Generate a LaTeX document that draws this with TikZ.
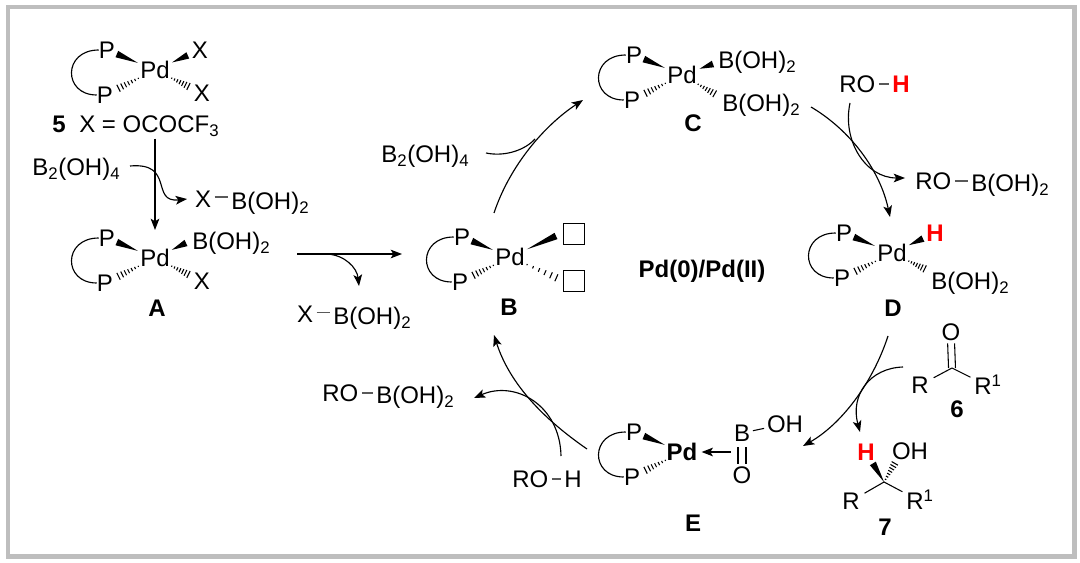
\documentclass[tikz,border=0pt]{standalone}
\usepackage{fontspec}
\setmainfont{Liberation Sans}
\usetikzlibrary{arrows.meta, calc}
\definecolor{framegray}{RGB}{190,190,190}
\definecolor{hydrogen}{RGB}{255,0,0}
\tikzset{
  chem/.style={inner sep=0pt, text height=12.6pt, text depth=0pt, font=\fontsize{18}{20}\selectfont},
  chembold/.style={chem, font=\fontsize{18}{20}\selectfont\bfseries},
  redh/.style={chembold, text=hydrogen},
  vacant/.style={draw, line width=0.9pt, minimum size=15.5pt, inner sep=0pt},
  bond/.style={line width=0.8pt},
  hbond/.style={bond, black!65, shorten <=2.5pt, shorten >=2.5pt},
  curve/.style={line width=0.85pt},
  rxn/.style={curve, -{Stealth[length=8.5pt, width=6.5pt, inset=2pt]}},
  hashline/.style={line width=0.8pt}
}
\newcommand{\boh}{B(OH)\textsubscript{2}}
% wedge from a to b, #3 = gap left at b
\newcommand{\wedgebond}[3]{
  \fill ($(#1)!14pt!(#2)$) -- ($(#2)!#3!(#1)!2.6pt!90:(#1)$) -- ($(#2)!#3!(#1)!2.6pt!-90:(#1)$) -- cycle;
}
% hashed bond from a to b, #3 = gap left at b, #4 = list of steps
\newcommand{\hashbond}[4]{
  \coordinate (hs) at ($(#1)!14pt!(#2)$);
  \coordinate (he) at ($(#2)!#3!(#1)$);
  \foreach \t [evaluate=\t as \hw using 0.5+2.4*\t] in {#4}
    \draw[hashline] ($(hs)!\t!(he)!\hw pt!90:(he)$) -- ($(hs)!\t!(he)!\hw pt!-90:(he)$);
}
% phosphine chelate round a Pd centre
\newcommand{\pdcore}[3]{
  \node[#3] (#1-Pd) at (#2) {Pd};
  \node[chem] (#1-Pt) at ($(#1-Pd)+(-48,-20)$) {P};
  \node[chem] (#1-Pb) at ($(#1-Pd)+(-50,25)$) {P};
  \draw[curve] (#1-Pt.west) .. controls +(-36,0) and +(-34,0) .. (#1-Pb.west);
  \wedgebond{#1-Pd}{#1-Pt}{8pt}
  \hashbond{#1-Pd}{#1-Pb}{11pt}{0,.16,.32,.48,.64,.8,.98}
}
\begin{document}
\begin{tikzpicture}[x=0.75pt, y=-0.75pt]
  \useasboundingbox (0,0) rectangle (1080,563);
  \draw[framegray, line width=3.2pt] (8,7) rectangle (1074.5,556.5);

  % precatalyst 5
  \pdcore{five}{155,70}{chem}
  \node[chem] (five-Xt) at (200,50) {X};
  \node[chem] (five-Xb) at (202,93) {X};
  \wedgebond{five-Pd}{five-Xt}{10pt}
  \hashbond{five-Pd}{five-Xb}{11pt}{0,.16,.32,.48,.64,.8,.98}
  \node[chembold] (five-no) at (59,124) {5};
  \node[chem, anchor=west] (five-X) at (79,124) {X = OCOCF\textsubscript{3}};

  % activation to A
  \pdcore{A}{155,258}{chem}
  \node[chem, anchor=west] (A-B) at (192,241) {\boh};
  \node[chem] (A-X) at (202,281) {X};
  \coordinate (A-rt) at (186,243);
  \wedgebond{A-Pd}{A-rt}{0pt}
  \hashbond{A-Pd}{A-X}{11pt}{0,.16,.32,.48,.64,.8,.98}
  \node[chembold] (A-no) at (157,308) {A};
  \draw[rxn] (five-X.south -| A-Pd) ++(0,6) coordinate (five-out) -- (A-Pd |- 0,230) coordinate (A-in);
  \node[chem, anchor=west] (dibor-a) at (32,167) {B\textsubscript{2}(OH)\textsubscript{4}};
  \node[chem] (xb-x) at (203,199) {X};
  \node[chem, anchor=west] (xb-b) at (231,201) {\boh};
  \draw[hbond] ([yshift=1.5pt]xb-x.east) -- ([yshift=1.5pt]xb-x.east -| xb-b.west);
  \coordinate (dibor-a-in) at (130,166);
  \coordinate (xb-tip) at (187,199);
  \draw[rxn] (dibor-a-in) .. controls (175,162) and (150,203) .. (xb-tip);

  % A to B
  \coordinate (ab-out) at (297,254);
  \coordinate (ab-in) at (402,254);
  \coordinate (ab-br) at (327,254);
  \coordinate (ab-tip) at (359,286);
  \draw[rxn] (ab-out) -- (ab-in);
  \draw[rxn] (ab-br) .. controls (345,255) and (357,268) .. (ab-tip);
  \node[chem] (xb2-x) at (305,314) {X};
  \node[chem, anchor=west] (xb2-b) at (333,316) {\boh};
  \draw[hbond] ([yshift=1pt]xb2-x.east) -- ([yshift=1pt]xb2-x.east -| xb2-b.west);

  % B
  \pdcore{B}{510,257}{chem}
  \node[vacant] (B-vt) at (574,234) {};
  \node[vacant] (B-vb) at (574,281) {};
  \coordinate (B-rt) at (556,236);
  \coordinate (B-rb) at (557,278);
  \wedgebond{B-Pd}{B-rt}{0pt}
  \hashbond{B-Pd}{B-rb}{0pt}{0,.2,.4,.6,.8,.98}
  \node[chembold] (B-no) at (509,307) {B};

  % B to C
  \coordinate (bc-out) at (494,213);
  \coordinate (bc-in) at (583,100);
  \draw[rxn] (bc-out) .. controls (510,165) and (545,125) .. (bc-in);
  \node[chem, anchor=west] (dibor-b) at (381,154) {B\textsubscript{2}(OH)\textsubscript{4}};
  \coordinate (dibor-b-in) at (486,153);
  \coordinate (dibor-b-end) at (535,139);
  \draw[curve] (dibor-b-in) .. controls (505,157) and (525,150) .. (dibor-b-end);

  % C
  \pdcore{C}{682,75}{chem}
  \node[chem, anchor=west] (C-Bt) at (718,60) {\boh};
  \node[chem, anchor=west] (C-Bb) at (722,103) {\boh};
  \coordinate (C-rt) at (713,64);
  \coordinate (C-rb) at (715,94);
  \wedgebond{C-Pd}{C-rt}{0pt}
  \hashbond{C-Pd}{C-rb}{0pt}{0,.16,.32,.48,.64,.8,.98}
  \node[chembold] (C-no) at (693,123) {C};

  % C to D
  \coordinate (cd-out) at (811,107);
  \coordinate (cd-in) at (890,217);
  \draw[rxn] (cd-out) .. controls (850,130) and (880,170) .. (cd-in);
  \node[chem, anchor=west] (roh-a-r) at (839,84) {RO};
  \node[redh] (roh-a-h) at (901,84) {H};
  \draw[hbond] (roh-a-r) -- (roh-a-h);
  \coordinate (roh-a-in) at (850,103);
  \coordinate (rob-a-tip) at (905,178);
  \draw[rxn] (roh-a-in) .. controls (842,140) and (865,178) .. (rob-a-tip);
  \node[chem, anchor=west] (rob-a-r) at (915,181) {RO};
  \node[chem, anchor=west] (rob-a-b) at (971,183) {\boh};
  \draw[hbond] (rob-a-r.east) -- (rob-a-r.east -| rob-a-b.west);

  % centre label
  \node[chembold] (cycle) at (702,269) {Pd(0)/Pd(II)};

  % D
  \pdcore{D}{892,253}{chem}
  \node[redh] (D-H) at (935,233) {H};
  \node[chem, anchor=west] (D-B) at (931,281) {\boh};
  \coordinate (D-rb) at (925,269);
  \wedgebond{D-Pd}{D-H}{10pt}
  \hashbond{D-Pd}{D-rb}{0pt}{0,.16,.32,.48,.64,.8,.98}
  \node[chembold] (D-no) at (893,308) {D};

  % D to E
  \coordinate (de-out) at (888,336);
  \coordinate (de-in) at (803,446);
  \draw[rxn] (de-out) .. controls (872,385) and (840,425) .. (de-in);

  % ketone 6
  \coordinate (six-c) at (952,368);
  \node[chem] (six-O) at (951,332) {O};
  \node[chem] (six-R) at (920,385) {R};
  \node[chem, anchor=west] (six-Rr) at (974,386) {R\textsuperscript{1}};
  \draw[bond, shorten <=4pt] (six-R) -- (six-c);
  \draw[bond, shorten >=3pt] (six-c) -- (six-Rr);
  \draw[bond, shorten <=2pt] ([xshift=-2.6pt]six-O.south) -- ([xshift=-2.6pt]six-c);
  \draw[bond, shorten <=2pt] ([xshift=2.6pt]six-O.south) -- ([xshift=2.6pt]six-c);
  \node[chembold] (six-no) at (957,409) {6};

  % 6 to 7
  \coordinate (six-out) at (903,367);
  \coordinate (seven-in) at (860,432);
  \draw[rxn] (six-out) .. controls (870,368) and (850,395) .. (seven-in);

  % alcohol 7
  \coordinate (seven-c) at (884,482);
  \node[redh] (seven-H) at (866,452) {H};
  \node[chem] (seven-OH) at (910,451) {OH};
  \node[chem] (seven-R) at (851,501) {R};
  \node[chem, anchor=west] (seven-Rr) at (906,501) {R\textsuperscript{1}};
  \coordinate (seven-hash) at (895,463);
  \fill (seven-c) -- ($(seven-H)!10pt!(seven-c)!2.6pt!90:(seven-c)$) -- ($(seven-H)!10pt!(seven-c)!2.6pt!-90:(seven-c)$) -- cycle;
  \foreach \t [evaluate=\t as \hw using 0.3+2.5*\t] in {0,.14,.28,.42,.56,.7,.84,.98}
    \draw[hashline] ($(seven-c)!\t!(seven-hash)!\hw pt!90:(seven-hash)$) -- ($(seven-c)!\t!(seven-hash)!\hw pt!-90:(seven-hash)$);
  \draw[bond, shorten <=4pt] (seven-R) -- (seven-c);
  \draw[bond, shorten >=3pt] (seven-c) -- (seven-Rr);
  \node[chembold] (seven-no) at (885,527) {7};

  % E
  \pdcore{E}{682,452}{chembold}
  \node[chem] (E-B) at (742,433) {B};
  \node[chem] (E-O) at (742,475) {O};
  \node[chem] (E-OH) at (785,424) {OH};
  \draw[bond, shorten <=2pt, shorten >=2pt] (E-B) -- (E-OH);
  \draw[bond, shorten <=4pt, shorten >=2pt] ([xshift=-3pt]E-B.south) -- ([xshift=-3pt]E-O.north);
  \draw[bond, shorten <=4pt, shorten >=2pt] ([xshift=3pt]E-B.south) -- ([xshift=3pt]E-O.north);
  \coordinate (E-out) at (731,452);
  \draw[rxn, shorten >=3pt] (E-out) -- (E-Pd);
  \node[chembold] (E-no) at (693,523) {E};

  % E to B
  \coordinate (eb-out) at (587,449);
  \coordinate (eb-in) at (494,335);
  \draw[rxn] (eb-out) .. controls (545,420) and (510,385) .. (eb-in);
  \node[chem, anchor=west] (roh-b-r) at (512,479) {RO};
  \node[chem] (roh-b-h) at (573,479) {H};
  \draw[hbond] (roh-b-r) -- (roh-b-h);
  \coordinate (roh-b-in) at (561,456);
  \coordinate (rob-b-tip) at (474,398);
  \draw[rxn] (roh-b-in) .. controls (560,405) and (515,380) .. (rob-b-tip);
  \node[chem, anchor=west] (rob-b-r) at (322,393) {RO};
  \node[chem, anchor=west] (rob-b-b) at (376,395) {\boh};
  \draw[hbond] (rob-b-r.east) -- (rob-b-r.east -| rob-b-b.west);
\end{tikzpicture}
\end{document}
